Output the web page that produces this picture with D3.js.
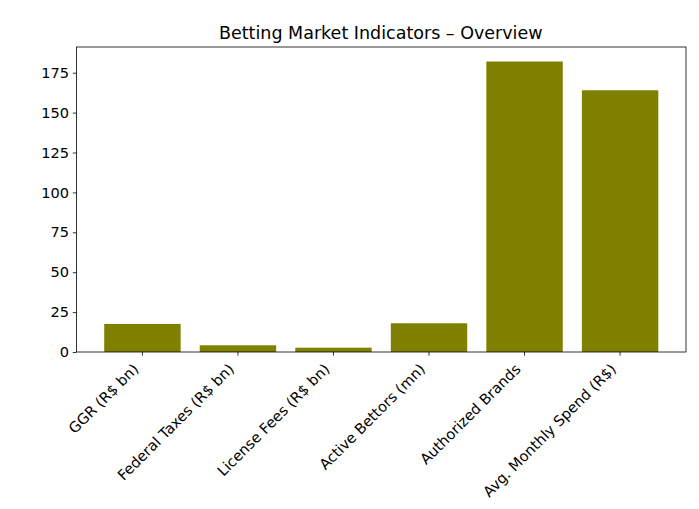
<!DOCTYPE html>
<html>
<head>
<meta charset="utf-8">
<script src="https://cdn.jsdelivr.net/npm/d3@7"></script>
<style>
  body { margin: 0; background: #fff; }
  svg text { font-family: "DejaVu Sans", sans-serif; fill: #000; }
</style>
</head>
<body>
<svg id="chart" width="699" height="509"></svg>
<script>
const categories = ["GGR (R$ bn)", "Federal Taxes (R$ bn)", "License Fees (R$ bn)", "Active Bettors (mn)", "Authorized Brands", "Avg. Monthly Spend (R$)"];
const values = [17.6, 4.2, 2.7, 18.0, 182, 164];
const yTicks = [0, 25, 50, 75, 100, 125, 150, 175];
const titleText = "Betting Market Indicators \u2013 Overview";

const svg = d3.select("#chart");
const mLeft = 76.5, mRight = 686, mTop = 47, mBottom = 352;
const tickFont = "14.6px", titleFont = "17.5px";

const n = categories.length;
const xLin = d3.scaleLinear()
  .domain([-0.4 - 0.05 * (n - 0.2), (n - 1) + 0.4 + 0.05 * (n - 0.2)])
  .range([mLeft, mRight]);
const maxV = d3.max(values);
const y = d3.scaleLinear().domain([0, maxV * 1.05]).range([mBottom, mTop]);

// bars
svg.append("g").selectAll("rect").data(values).join("rect")
  .attr("x", (d, i) => xLin(i - 0.4))
  .attr("width", (d, i) => xLin(i + 0.4) - xLin(i - 0.4))
  .attr("y", d => y(d))
  .attr("height", d => y(0) - y(d))
  .attr("fill", "#808000");

// y axis
const yAxis = d3.axisLeft(y).tickValues(yTicks).tickSize(3.7).tickPadding(3.7);
const gy = svg.append("g").attr("transform", `translate(${mLeft},0)`).call(yAxis);
gy.select(".domain").remove();
gy.selectAll("text").style("font-size", tickFont).style("font-family", "DejaVu Sans");
gy.selectAll("line").attr("stroke", "#000").attr("stroke-width", 0.8);

// x axis ticks
const gx = svg.append("g");
categories.forEach((c, i) => {
  const cx = xLin(i);
  gx.append("line").attr("x1", cx).attr("x2", cx).attr("y1", mBottom).attr("y2", mBottom + 3.7)
    .attr("stroke", "#000").attr("stroke-width", 0.8);
  gx.append("text")
    .attr("transform", `translate(${cx - 3},${mBottom + 18}) rotate(-45)`)
    .attr("text-anchor", "end")
    .style("font-size", tickFont)
    .text(c);
});

// frame
svg.append("rect").attr("x", mLeft).attr("y", mTop).attr("width", mRight - mLeft).attr("height", mBottom - mTop)
  .attr("fill", "none").attr("stroke", "#000").attr("stroke-width", 0.8);

// title
svg.append("text").attr("x", (mLeft + mRight) / 2 - 0.5).attr("y", 38.5).attr("text-anchor", "middle")
  .style("font-size", titleFont).text(titleText);
</script>
</body>
</html>
